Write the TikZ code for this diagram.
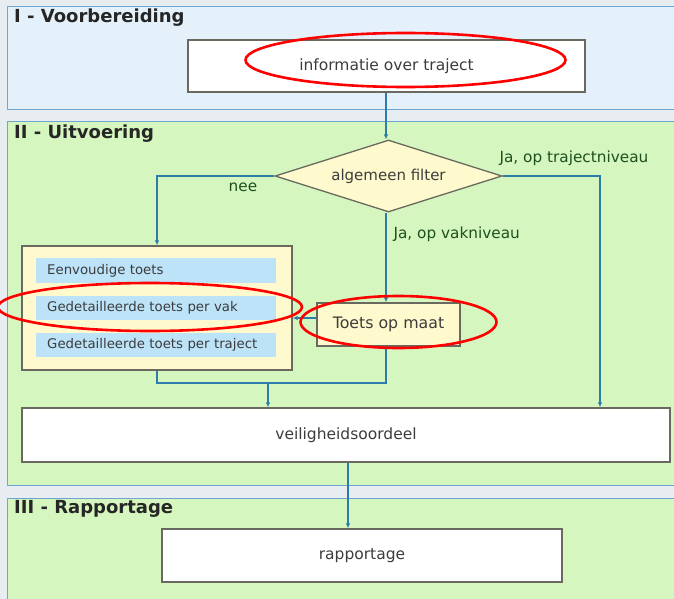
\documentclass[tikz,border=0pt]{standalone}
\usepackage{fontspec}
\setmainfont{DejaVu Sans}
\usetikzlibrary{shapes.geometric,arrows.meta}
\definecolor{bgc}{RGB}{232,237,242}
\definecolor{secI}{RGB}{229,241,250}
\definecolor{secG}{RGB}{213,246,190}
\definecolor{secB}{RGB}{110,165,210}
\definecolor{lnc}{RGB}{45,125,170}
\definecolor{bxb}{RGB}{105,105,95}
\definecolor{yel}{RGB}{255,250,205}
\definecolor{blu}{RGB}{189,227,248}
\definecolor{txt}{RGB}{60,60,60}
\definecolor{grn}{RGB}{30,80,30}
\tikzset{
  sect/.style={draw=secB, line width=1pt},
  sectitle/.style={anchor=north west, font=\bfseries\fontsize{18}{20}\selectfont, text=black!85, inner sep=0pt},
  wbox/.style={draw=bxb, fill=white, line width=1.3pt, text=txt, font=\fontsize{15.5}{17}\selectfont},
  ybox/.style={draw=bxb, fill=yel, line width=1.3pt, text=txt},
  bar/.style={fill=blu, text=txt, font=\fontsize{13.3}{15}\selectfont, anchor=west, text width=218pt, inner xsep=11pt, align=left},
  conn/.style={draw=lnc, line width=1.2pt},
  arr/.style={conn, -{Latex[length=5pt,width=4.5pt]}},
  lab/.style={text=grn, font=\fontsize{15.3}{17}\selectfont},
  redring/.style={draw=red, line width=2.6pt}
}
\begin{document}
\begin{tikzpicture}[x=1pt,y=-1pt]
\useasboundingbox (0,0) rectangle (674,599);
\fill[bgc] (0,0) rectangle (674,599);
% sections
\draw[sect, fill=secI] (7,7) rectangle (680,110);
\draw[sect, fill=secG] (7,122) rectangle (680,485);
\draw[sect, fill=secG] (7,498) rectangle (680,610);
\node[sectitle] (t1) at (14,9) {I - Voorbereiding};
\node[sectitle] (t2) at (14,125) {II - Uitvoering};
\node[sectitle] (t3) at (14,500) {III - Rapportage};
% boxes
\node[wbox, minimum width=397pt, minimum height=52pt] (info) at (386.5,66) {informatie over traject};
\node[ybox, diamond, aspect=3.15, minimum width=227pt, minimum height=72pt, inner sep=0pt, font=\fontsize{15}{17}\selectfont] (filt) at (388.5,176) {algemeen filter};
\node[ybox, minimum width=270pt, minimum height=124pt] (grp) at (157,308) {};
\node[bar, minimum height=25pt] (b1) at (36,270.5) {Eenvoudige toets};
\node[bar, minimum height=24pt] (b2) at (36,307.5) {Gedetailleerde toets per vak};
\node[bar, minimum height=24pt] (b3) at (36,344.5) {Gedetailleerde toets per traject};
\node[ybox, minimum width=143pt, minimum height=43pt, font=\fontsize{15.8}{17}\selectfont] (maat) at (388.5,324.5) {Toets op maat};
\node[wbox, minimum width=648pt, minimum height=54pt] (veil) at (346,435) {veiligheidsoordeel};
\node[wbox, minimum width=400pt, minimum height=53pt] (rap) at (362,555.5) {rapportage};
% connectors
\coordinate (j1) at (157,383);
\coordinate (j2) at (386,383);
\coordinate (j3) at (268,383);
\draw[arr] (info.south -| 386,0) -- (filt.north -| 386,0);
\draw[arr] (filt.west) -- (157,176) -- (grp.north);
\draw[arr] (filt.east) -- (600,176) -- (veil.north -| 600,0);
\draw[arr] (filt.south -| 386,0) -- (maat.north -| 386,0);
\draw[arr] (maat.west |- 0,318) -- (grp.east |- 0,318);
\draw[conn] (grp.south) -- (j1) -- (j2) -- (maat.south -| 386,0);
\draw[arr] (j3) -- (veil.north -| j3);
\draw[arr] (veil.south -| 348,0) -- (rap.north -| 348,0);
% labels
\node[lab] (nee) at (243,187) {nee};
\node[lab, anchor=west] (ja1) at (496,158) {Ja, op trajectniveau};
\node[lab, anchor=west] (ja2) at (390,234) {Ja, op vakniveau};
% red marks
\draw[redring] (405.5,60) ellipse [x radius=160, y radius=27];
\draw[redring] (150,307) ellipse [x radius=152, y radius=24];
\draw[redring] (398.5,322) ellipse [x radius=98, y radius=26];
\end{tikzpicture}
\end{document}
